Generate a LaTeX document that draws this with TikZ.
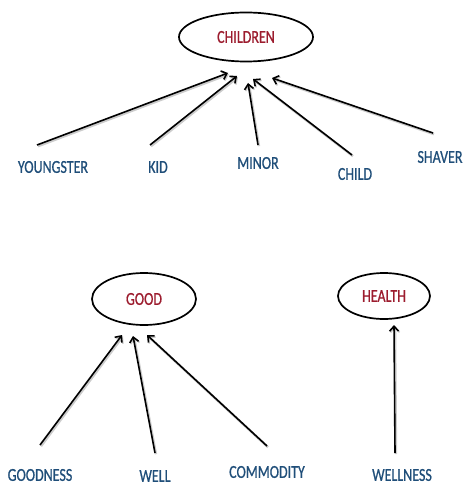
\documentclass[tikz,border=0pt]{standalone}
\usepackage{fontspec}
\setmainfont{Carlito}
\newfontfamily\wordfont[BoldFont={Carlito},BoldFeatures={FakeBold=0.9}]{Carlito}
\usetikzlibrary{shapes.geometric,arrows.meta}
\definecolor{wordblue}{HTML}{1F4E79}
\definecolor{wordred}{HTML}{9C1C2E}
\newcommand{\tall}[1]{\scalebox{1}[1.3]{\wordfont\bfseries #1}}
\tikzset{
  word/.style={text=wordblue, font=\fontsize{14}{14}\selectfont, inner sep=0pt},
  hub/.style={ellipse, draw=black, line width=1.7pt, text=wordred, font=\fontsize{14}{14}\selectfont, inner sep=0pt},
  link/.style={line width=1.6pt, -{Straight Barb[length=5pt,width=9pt,line width=1.6pt]},
    preaction={draw=black!20, line width=2.4pt, transform canvas={shift={(1pt,-1.2pt)}}}}
}
\begin{document}
\begin{tikzpicture}[x=1pt,y=-1pt]
\useasboundingbox (0,0) rectangle (471,486);
% hubs
\node[hub, minimum width=134pt, minimum height=49pt] (children) at (246,37) {\tall{CHILDREN}};
\node[hub, minimum width=104pt, minimum height=52pt] (good) at (144,299) {\tall{GOOD}};
\node[hub, minimum width=92pt, minimum height=46pt] (health) at (384,296) {\tall{HEALTH}};
% words
\node[word] (youngster) at (53,167) {\tall{YOUNGSTER}};
\node[word] (kid) at (158,167) {\tall{KID}};
\node[word] (minor) at (258,163) {\tall{MINOR}};
\node[word] (child) at (355,174) {\tall{CHILD}};
\node[word] (shaver) at (440,157) {\tall{SHAVER}};
\node[word] (goodness) at (40,475) {\tall{GOODNESS}};
\node[word] (well) at (155,476) {\tall{WELL}};
\node[word] (commodity) at (267,472) {\tall{COMMODITY}};
\node[word] (wellness) at (402,475) {\tall{WELLNESS}};
% connector ends
\coordinate (y0) at (37,145);  \coordinate (y1) at (228,73);
\coordinate (k0) at (150,145); \coordinate (k1) at (237,76);
\coordinate (m0) at (258,145); \coordinate (m1) at (248,83);
\coordinate (c0) at (352,155); \coordinate (c1) at (253,79);
\coordinate (s0) at (433,133); \coordinate (s1) at (272,78);
\coordinate (g0) at (40,445);  \coordinate (g1) at (122,335);
\coordinate (w0) at (155,453); \coordinate (w1) at (133,336);
\coordinate (o0) at (267,446); \coordinate (o1) at (147,335);
\coordinate (l0) at (395,453); \coordinate (l1) at (394,325);
% connectors
\draw[link] (y0) -- (y1);
\draw[link] (k0) -- (k1);
\draw[link] (m0) -- (m1);
\draw[link] (c0) -- (c1);
\draw[link] (s0) -- (s1);
\draw[link] (g0) -- (g1);
\draw[link] (w0) -- (w1);
\draw[link] (o0) -- (o1);
\draw[link] (l0) -- (l1);
\end{tikzpicture}
\end{document}
